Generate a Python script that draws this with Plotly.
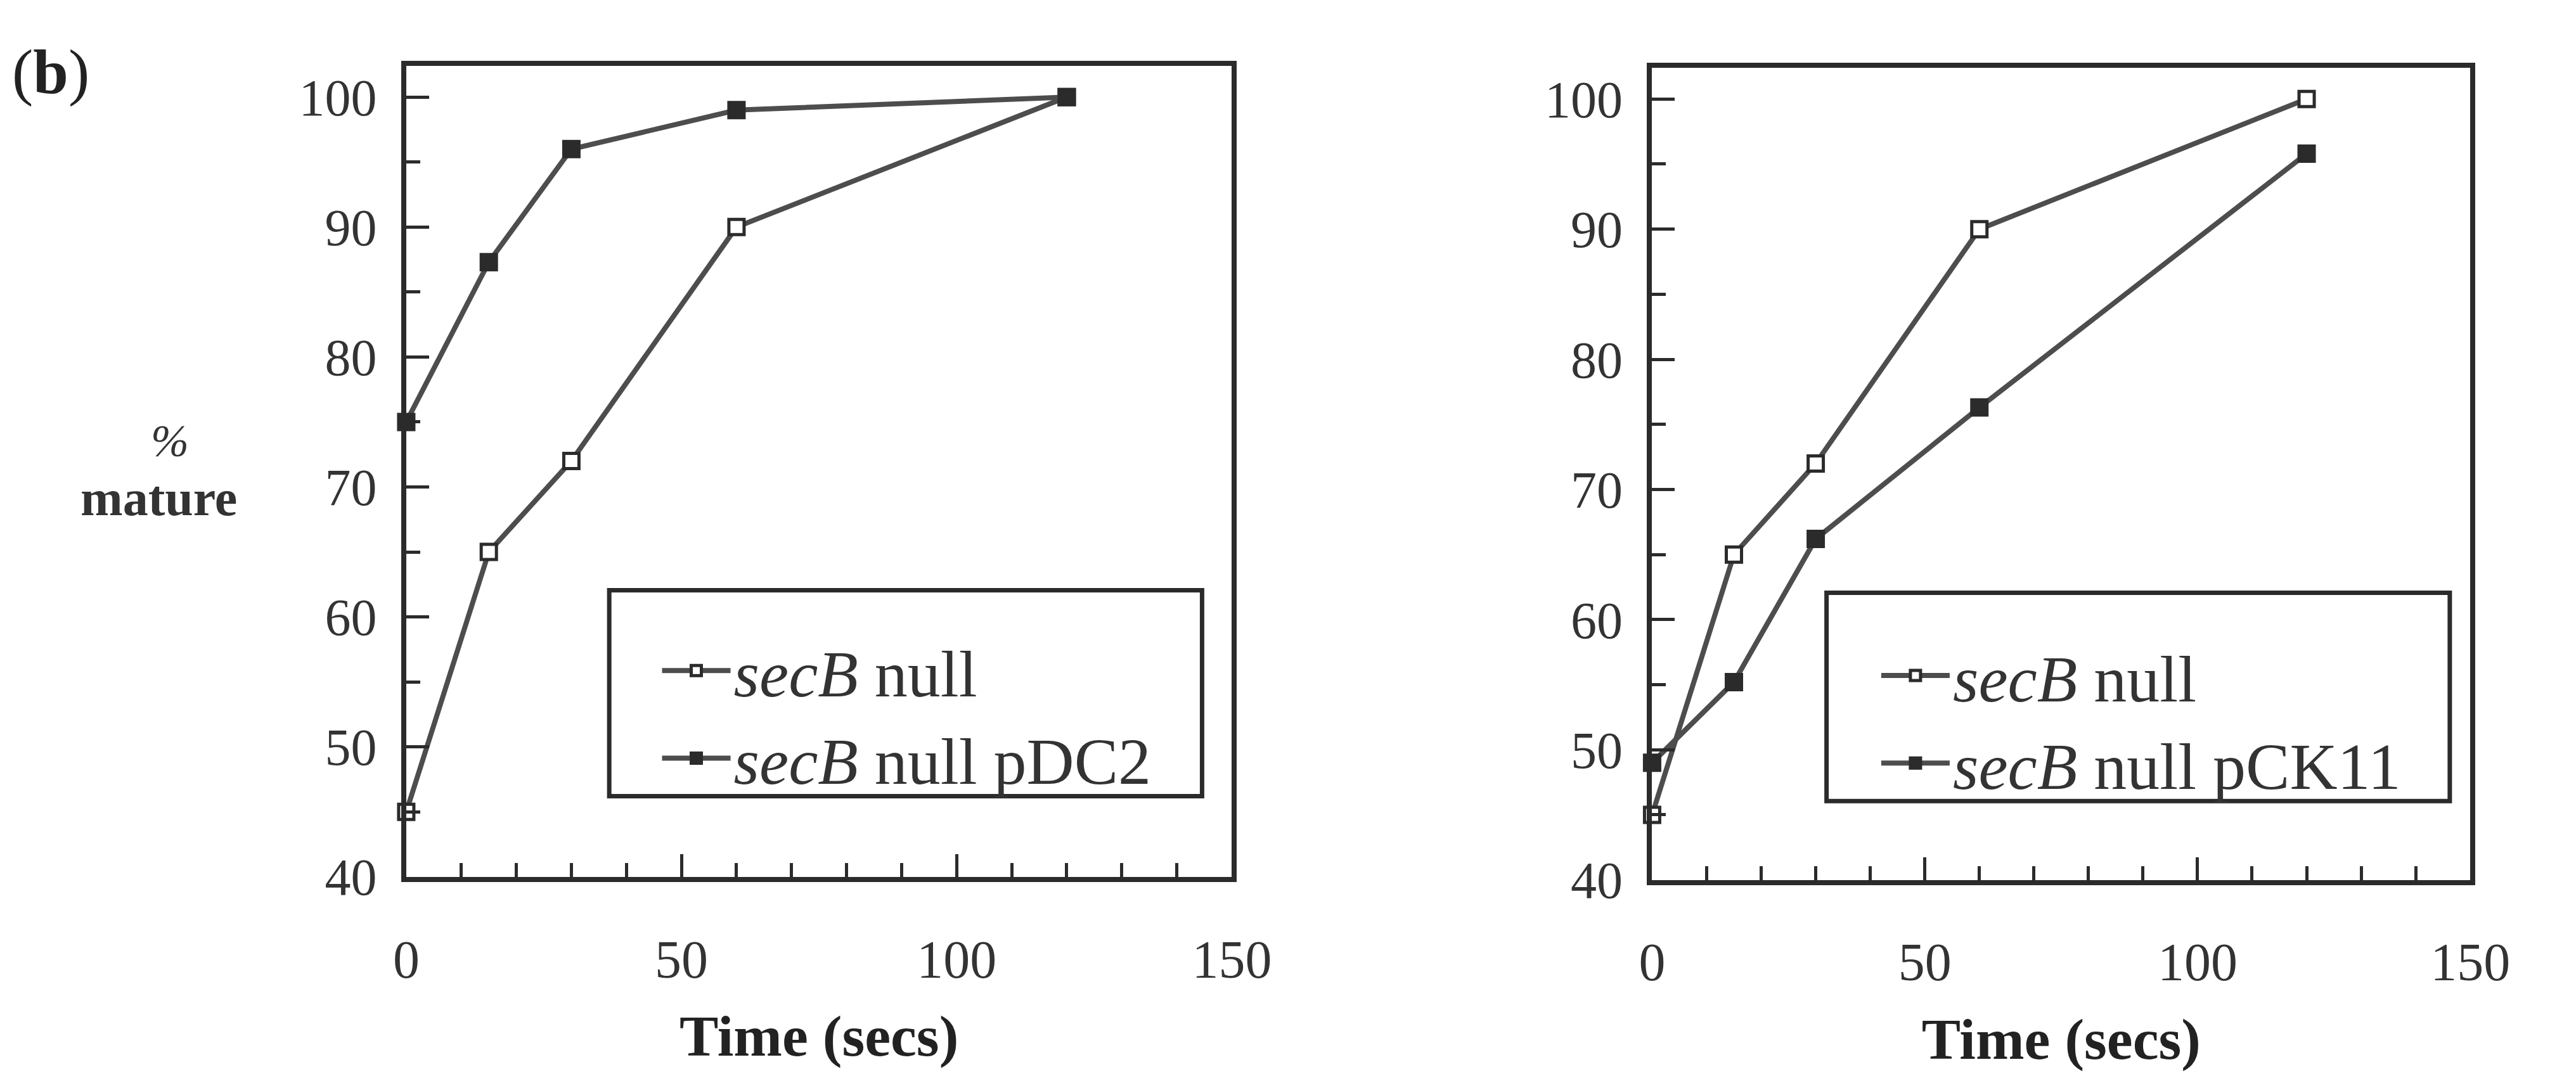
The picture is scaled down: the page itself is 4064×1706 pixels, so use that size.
import plotly.graph_objects as go

# ---- data ----
time_s = [0, 15, 30, 60, 120]
left_secb_null = [45, 65, 72, 90, 100]
left_secb_pdc2 = [75, 87.3, 96, 99, 100]
right_secb_null = [45, 65, 72, 90, 100]
right_secb_pck11 = [49, 55.2, 66.2, 76.3, 95.8]

left_names = ["<i>secB</i> null", "<i>secB</i> null pDC2"]
right_names = ["<i>secB</i> null", "<i>secB</i> null pCK11"]

x_ticks = [0, 50, 100, 150]
y_ticks = [40, 50, 60, 70, 80, 90, 100]

W, H = 4064, 1706
FONT = "Liberation Serif"
DARK = "#2b2b2b"
LINE = "#4d4d4d"

fig = go.Figure()

def add_series(x, y, name, filled, xa, ya, legend):
    fig.add_trace(go.Scatter(
        x=x, y=y, name=name, mode="lines+markers",
        xaxis=xa, yaxis=ya, legend=legend, legendgroup=legend + name,
        line=dict(color=LINE, width=8),
        marker=dict(symbol="square", size=24,
                    color=DARK if filled else "white",
                    line=dict(color=DARK, width=5)),
        cliponaxis=False,
    ))

add_series(time_s, left_secb_null, left_names[0], False, "x", "y", "legend")
add_series(time_s, left_secb_pdc2, left_names[1], True, "x", "y", "legend")
add_series(time_s, right_secb_null, right_names[0], False, "x2", "y2", "legend2")
add_series(time_s, right_secb_pck11, right_names[1], True, "x2", "y2", "legend2")

def px_x(p):
    return p / W

def px_y(p):
    return 1 - p / H

xaxis_common = dict(
    range=[0, 150], tickvals=x_ticks, ticks="inside", ticklen=36, tickwidth=5,
    tickcolor=DARK, showline=True, linewidth=8, linecolor=DARK, mirror=True,
    showgrid=False, zeroline=False, ticklabelstandoff=50,
    tickfont=dict(family=FONT, size=84, color="#333"),
    minor=dict(dtick=10, ticks="inside", ticklen=22, tickwidth=5, tickcolor=DARK, showgrid=False),
    title=dict(text="<b>Time (secs)</b>", font=dict(family=FONT, size=92, color="#222"), standoff=45),
)
yaxis_common = dict(
    range=[40, 102.4], tickvals=y_ticks, ticks="inside", ticklen=36, tickwidth=5,
    tickcolor=DARK, showline=True, linewidth=8, linecolor=DARK, mirror=True,
    showgrid=False, zeroline=False, ticklabelstandoff=22,
    tickfont=dict(family=FONT, size=82, color="#333"),
    minor=dict(dtick=5, ticks="inside", ticklen=22, tickwidth=5, tickcolor=DARK, showgrid=False),
)

legend_common = dict(
    xanchor="left", yanchor="top", bgcolor="rgba(0,0,0,0)", borderwidth=0,
    tracegroupgap=0, itemwidth=108,
    font=dict(family=FONT, size=104, color="#333"),
)

fig.update_layout(
    width=W, height=H,
    margin=dict(l=0, r=0, t=0, b=0),
    paper_bgcolor="white", plot_bgcolor="white",
    xaxis=dict(domain=[px_x(633), px_x(1963)], anchor="y", **xaxis_common),
    yaxis=dict(domain=[px_y(1423), px_y(107)], anchor="x", **yaxis_common),
    xaxis2=dict(domain=[px_x(2640), px_x(3958)], anchor="y2", **xaxis_common),
    yaxis2=dict(domain=[px_y(1428), px_y(110)], anchor="x2", **yaxis_common),
    legend=dict(x=px_x(1040), y=px_y(1012), **legend_common),
    legend2=dict(x=px_x(3004), y=px_y(1020), **legend_common),
    showlegend=True,
)

# legend frames
fig.add_shape(type="rect", xref="paper", yref="paper",
              x0=px_x(960), x1=px_x(1915), y0=px_y(1292), y1=px_y(958),
              line=dict(color=DARK, width=7), fillcolor="rgba(0,0,0,0)")
fig.add_shape(type="rect", xref="paper", yref="paper",
              x0=px_x(2921), x1=px_x(3925), y0=px_y(1300), y1=px_y(962),
              line=dict(color=DARK, width=7), fillcolor="rgba(0,0,0,0)")

fig.add_annotation(text="(<b>b</b>)", xref="paper", yref="paper", x=px_x(60), y=px_y(117),
                   xanchor="center", yanchor="middle", showarrow=False,
                   font=dict(family=FONT, size=100, color="#222"))
fig.add_annotation(text="<i>%</i>", xref="paper", yref="paper", x=px_x(252), y=px_y(716),
                   xanchor="center", yanchor="middle", showarrow=False,
                   font=dict(family=FONT, size=72, color="#333"))
fig.add_annotation(text="<b>mature</b>", xref="paper", yref="paper", x=px_x(234), y=px_y(808),
                   xanchor="center", yanchor="middle", showarrow=False,
                   font=dict(family=FONT, size=80, color="#333"))

fig.write_html("out.html")
